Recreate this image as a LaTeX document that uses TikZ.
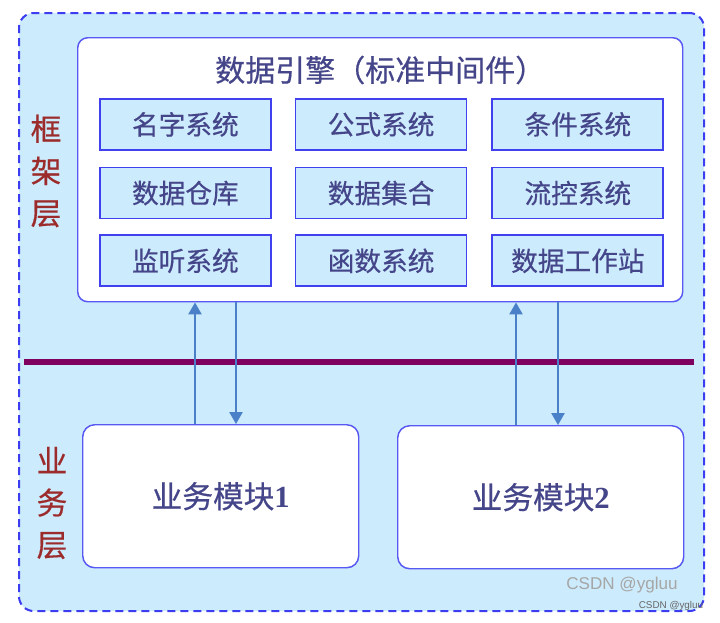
\documentclass[tikz,border=0pt]{standalone}
\usepackage{fontspec}
\setmainfont{Liberation Serif}
\newfontfamily\cjk[FakeBold=0.5]{Noto Sans CJK SC}
\newfontfamily\wmark{Liberation Sans}
\usetikzlibrary{positioning,arrows.meta}

\definecolor{layerblue}{HTML}{CCEBFC}
\definecolor{framedash}{HTML}{3C3CF0}
\definecolor{boxline}{HTML}{5858F2}
\definecolor{unitline}{HTML}{4040EE}
\definecolor{boxtext}{HTML}{45458A}
\definecolor{layerred}{HTML}{9C2B2B}
\definecolor{flowblue}{HTML}{4A80C8}
\definecolor{barpurple}{HTML}{800060}

\begin{document}
\begin{tikzpicture}[x=0.75pt,y=-0.75pt]
    \newcommand{\pxl}[0]{ 0.75pt }
    \tikzstyle{dedge} = [line width=1.1pt,draw=flowblue,
      -{Triangle[length=9pt,width=10pt]}]
    \tikzstyle{frame} = [rectangle,draw=framedash,fill=layerblue,
      line width=1.5pt,dash pattern=on 6pt off 3.75pt,rounded corners=11pt]
    \tikzstyle{box} = [rectangle,draw=boxline,fill=white,line width=1.1pt,
      inner sep=0pt,text=boxtext]
    \tikzstyle{unit} = [rectangle,draw=unitline,fill=layerblue,line width=1.3pt,
      inner sep=0pt,text=boxtext,minimum width=171*\pxl,minimum height=51*\pxl,
      font=\cjk\fontsize{20pt}{24pt}\selectfont]
    \tikzstyle{layerlabel} = [align=center,text=layerred,inner sep=0pt,
      font=\cjk\fontsize{23pt}{31.5pt}\selectfont]
    \tikzstyle{wm} = [inner sep=0pt,font=\wmark]

    \useasboundingbox (0,0) rectangle (720,622);

    \node[frame,anchor=north west,minimum width=685*\pxl,minimum height=598*\pxl]
      (frame) at (18,12) {};

    % data engine
    \node[box,anchor=north west,minimum width=605*\pxl,minimum height=264*\pxl,
      rounded corners=7.5pt] (engine) at (77,37) {};
    \node[text=boxtext,font=\cjk\fontsize{22.5pt}{27pt}\selectfont] (title) at
      ([yshift=-33*\pxl]engine.north)
      {数据引擎（标准中间件）};
    \node[unit,anchor=north west] (names) at
      ([xshift=22*\pxl,yshift=-61*\pxl]engine.north west)
      {名字系统};
    \node[unit,right=17.25pt of names]      (formulas)   {公式系统};
    \node[unit,right=18pt of formulas]      (conditions) {条件系统};
    \node[unit,below=12pt of names]         (warehouse)  {数据仓库};
    \node[unit,below=12pt of formulas]      (dataset)    {数据集合};
    \node[unit,below=12pt of conditions]    (flowctl)    {流控系统};
    \node[unit,below=11.25pt of warehouse]  (listener)   {监听系统};
    \node[unit,below=11.25pt of dataset]    (functions)  {函数系统};
    \node[unit,below=11.25pt of flowctl]    (station)    {数据工作站};

    % layers
    \node[layerlabel] (framelabel) at (46,171) {框\\架\\层};
    \node[layerlabel] (bizlabel)   at (52,503) {业\\务\\层};
    \draw[barpurple,line width=4.5pt] (24,362) -- (694,362);

    % business modules
    \node[box,anchor=north west,minimum width=276*\pxl,minimum height=143*\pxl,
      rounded corners=9pt,font=\cjk\fontsize{23pt}{27pt}\selectfont] (module1) at
      (82,424)
      {业务模块{\rmfamily\bfseries 1}};
    \node[box,anchor=north west,minimum width=286*\pxl,minimum height=143*\pxl,
      rounded corners=9pt,font=\cjk\fontsize{23pt}{27pt}\selectfont] (module2) at
      (397,425)
      {业务模块{\rmfamily\bfseries 2}};

    % module 1 <-> engine
    \draw[dedge] ([xshift=113*\pxl]module1.north west)
               --([xshift=113*\pxl]module1.north west |- engine.south);
    \draw[dedge] ([xshift=154*\pxl]module1.north west |- engine.south)
               --([xshift=154*\pxl]module1.north west);

    % module 2 <-> engine
    \draw[dedge] ([xshift=119*\pxl]module2.north west)
               --([xshift=119*\pxl]module2.north west |- engine.south);
    \draw[dedge] ([xshift=161*\pxl]module2.north west |- engine.south)
               --([xshift=161*\pxl]module2.north west);

    % watermarks
    \node[wm,text=black!35,font=\wmark\fontsize{12.8pt}{15pt}\selectfont]
      (csdn) at (622,585) {CSDN @ygluu};
    \node[wm,text=black!60,font=\wmark\fontsize{7.4pt}{9pt}\selectfont]
      (csdnsmall) at (671,606) {CSDN @ygluu};
\end{tikzpicture}
\end{document}
